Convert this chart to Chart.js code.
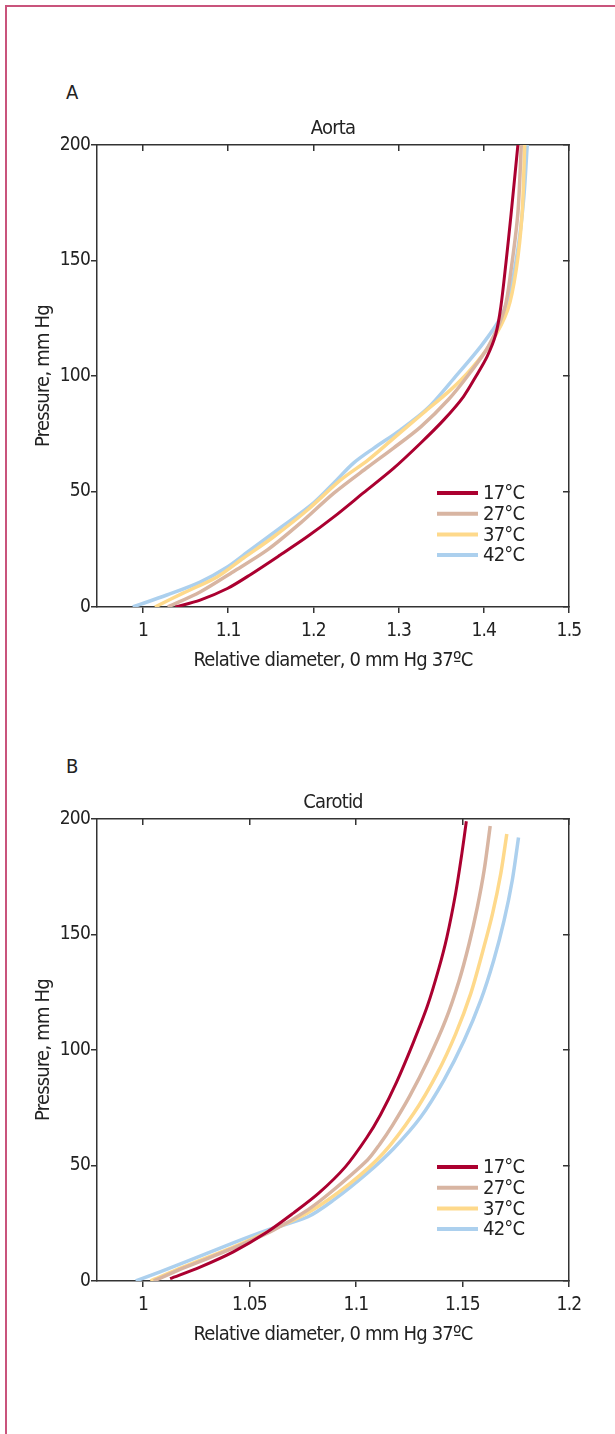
<!DOCTYPE html>
<html>
<head>
<meta charset="utf-8">
<script src="https://cdn.jsdelivr.net/npm/chart.js@4/dist/chart.umd.min.js"></script>
<style>
  html, body { margin: 0; padding: 0; background: #fff; }
  body { width: 615px; height: 1434px; position: relative; overflow: hidden;
         font-family: "DejaVu Sans Condensed", "DejaVu Sans", sans-serif; color: #222; }
  .frame { position: absolute; left: 5px; top: 5px; width: 640px; height: 1460px;
           border-left: 2px solid #c9547c; border-top: 2px solid #c9547c; }
  .panel { position: absolute; left: 66px; font-size: 20px; letter-spacing: -0.8px; }
  canvas { position: absolute; left: 0; }
</style>
</head>
<body>
<div class="frame"></div>
<div class="panel" style="top:80px">A</div>
<div class="panel" style="top:754px">B</div>
<canvas id="aorta" width="615" height="590" style="top:100px"></canvas>
<canvas id="carotid" width="615" height="590" style="top:774px"></canvas>
<script>
const labels  = ['17°C', '27°C', '37°C', '42°C'];
const colors  = ['#ab0030', '#d8b5a2', '#fed98b', '#acd0ee'];

const pressureTicks = [0, 50, 100, 150, 200];
const aortaXTicks   = [1, 1.1, 1.2, 1.3, 1.4, 1.5];
const carotidXTicks = [1, 1.05, 1.1, 1.15, 1.2];

// Aorta: relative diameter (x) vs pressure (y)
const aortaD17 = [1.038, 1.067, 1.099, 1.126, 1.161, 1.193, 1.224, 1.259, 1.294, 1.326, 1.353, 1.376, 1.391, 1.404, 1.414, 1.420, 1.426, 1.432, 1.440];
const aortaP17 = [0, 3, 8, 14, 22.5, 30.5, 39, 49.5, 60, 71, 81, 91, 100, 108.5, 118, 130, 149, 170, 200];
const aortaD27 = [1.029, 1.067, 1.106, 1.146, 1.185, 1.224, 1.264, 1.294, 1.326, 1.358, 1.383, 1.405, 1.424, 1.432, 1.440, 1.444];
const aortaP27 = [0, 6.5, 15.3, 24.7, 36.4, 49.3, 60.6, 68.8, 78, 89.6, 101, 112.6, 128.6, 146, 170.5, 200];
const aortaD37 = [1.014, 1.047, 1.087, 1.118, 1.153, 1.193, 1.232, 1.264, 1.294, 1.329, 1.361, 1.385, 1.408, 1.428, 1.438, 1.445, 1.448];
const aortaP37 = [0, 6, 13, 21.2, 30.3, 42, 55, 63.6, 73, 84, 94, 103, 114, 128.6, 146, 170.5, 200];
const aortaD42 = [0.988, 1.028, 1.067, 1.099, 1.126, 1.161, 1.200, 1.224, 1.247, 1.271, 1.302, 1.334, 1.365, 1.396, 1.420, 1.432, 1.441, 1.447, 1.451];
const aortaP42 = [0, 5.2, 10.8, 17.3, 24.7, 34.2, 45, 53.7, 62.3, 68.8, 76.6, 86, 99, 112.6, 125.5, 138.5, 157.6, 177.5, 200];

// Carotid
const carD17 = [1.0127, 1.0268, 1.0424, 1.0583, 1.0706, 1.0825, 1.0950, 1.1050, 1.1115, 1.1190, 1.1268, 1.1335, 1.1388, 1.1427, 1.1468, 1.1497, 1.1518];
const carP17 = [1, 6, 12.6, 21.2, 29.4, 38, 49.4, 62, 72, 86, 103, 119, 135, 149, 168, 185, 199];
const carD27 = [1.005, 1.020, 1.0424, 1.0612, 1.0772, 1.0894, 1.1054, 1.1110, 1.1172, 1.1252, 1.1340, 1.1421, 1.1484, 1.1531, 1.1570, 1.1602, 1.1630];
const carP27 = [0, 6, 14.2, 22, 30.7, 39.4, 52.4, 59, 67.5, 80, 96, 113, 130, 146, 162, 178, 197];
const carD37 = [1.0035, 1.0188, 1.0424, 1.0583, 1.0772, 1.0974, 1.1129, 1.1272, 1.1382, 1.1468, 1.1539, 1.1593, 1.1641, 1.1680, 1.1708];
const carP37 = [0, 6, 14.7, 21.2, 29.4, 42.4, 55.4, 72.7, 90, 107, 124.5, 142, 159, 176.5, 193.5];
const carD42 = [0.9966, 1.0188, 1.0424, 1.0583, 1.0772, 1.0894, 1.1054, 1.1178, 1.1304, 1.1413, 1.1507, 1.1586, 1.1647, 1.1695, 1.1734, 1.1763];
const carP42 = [0, 7.8, 16.5, 22, 27.7, 35, 46.8, 57.5, 71, 87, 104, 121.6, 139, 156, 173.6, 192];

const FAMILY = '"DejaVu Sans Condensed", "DejaVu Sans", sans-serif';
const INK = '#222';
const AXIS = '#333';
Chart.defaults.font.family = FAMILY;
Chart.defaults.font.size = 19;
Chart.defaults.color = INK;

const pts = (xs, ys) => xs.map((x, i) => ({ x: x, y: ys[i] }));
const fmt = v => String(+v.toFixed(2));
const fixTicks = arr => s => { s.ticks = arr.map(v => ({ value: v })); };

// narrower type, closer to the condensed face of the original
const tightText = {
    id: 'tightText',
    beforeDraw(chart) { chart.ctx.letterSpacing = '-0.8px'; }
};

// legend drawn inside the plot, bottom right
const insideLegend = {
    id: 'insideLegend',
    afterDatasetsDraw(chart) {
        const { ctx, chartArea } = chart;
        ctx.save();
        ctx.font = '20px ' + FAMILY;
        ctx.textBaseline = 'middle';
        ctx.fillStyle = INK;
        chart.data.datasets.forEach((ds, i) => {
            const y = chartArea.bottom - 114 + i * 20.7;
            ctx.strokeStyle = ds.borderColor;
            ctx.lineWidth = 4;
            ctx.beginPath();
            ctx.moveTo(chartArea.right - 132, y);
            ctx.lineTo(chartArea.right - 91, y);
            ctx.stroke();
            ctx.fillText(ds.label, chartArea.right - 86, y + 1);
        });
        ctx.restore();
    }
};

function axisGrid(len) {
    return { drawOnChartArea: false, color: AXIS, tickColor: AXIS, lineWidth: 1.5, tickLength: len };
}

function makeChart(id, title, xs, ys, xMin, xMax, xTicks) {
    return new Chart(document.getElementById(id), {
        type: 'line',
        data: {
            datasets: labels.map((l, i) => ({
                label: l,
                data: pts(xs[i], ys[i]),
                borderColor: colors[i],
                borderWidth: i === 0 ? 3 : 3.5,
                pointRadius: 0,
                tension: 0.3,
                fill: false,
            }))
        },
        plugins: [tightText, insideLegend],
        options: {
            responsive: false,
            animation: false,
            layout: { padding: 0 },
            plugins: { legend: { display: false }, title: { display: false }, tooltip: { enabled: false } },
            scales: {
                x: {
                    type: 'linear', position: 'bottom', min: xMin, max: xMax,
                    grid: axisGrid(6),
                    border: { display: true, color: AXIS, width: 1.5 },
                    ticks: { padding: 7, callback: fmt, maxRotation: 0, autoSkip: false },
                    afterBuildTicks: fixTicks(xTicks),
                    title: { display: true, text: 'Relative diameter, 0 mm Hg 37ºC', font: { size: 20 }, padding: { top: 0, bottom: 17 } },
                    afterFit: s => { s.height = 83; }
                },
                x2: {
                    type: 'linear', position: 'top', min: xMin, max: xMax,
                    grid: axisGrid(-6),
                    border: { display: true, color: AXIS, width: 1.5 },
                    ticks: { display: false },
                    afterBuildTicks: fixTicks(xTicks),
                    title: { display: true, text: title, font: { size: 20 }, padding: { top: 17, bottom: 0 } },
                    afterFit: s => { s.height = 45; }
                },
                y: {
                    type: 'linear', position: 'left', min: 0, max: 200,
                    grid: axisGrid(6),
                    border: { display: true, color: AXIS, width: 1.5 },
                    ticks: { padding: 1 },
                    afterBuildTicks: fixTicks(pressureTicks),
                    title: { display: true, text: 'Pressure, mm Hg', font: { size: 20 }, padding: { top: 32, bottom: 0 } },
                    afterFit: s => { s.width = 97; }
                },
                y2: {
                    type: 'linear', position: 'right', min: 0, max: 200,
                    grid: axisGrid(-6),
                    border: { display: true, color: AXIS, width: 1.5 },
                    ticks: { display: false },
                    afterBuildTicks: fixTicks(pressureTicks),
                    afterFit: s => { s.width = 46; }
                }
            }
        }
    });
}

makeChart('aorta', 'Aorta',
    [aortaD17, aortaD27, aortaD37, aortaD42],
    [aortaP17, aortaP27, aortaP37, aortaP42],
    0.946, 1.5, aortaXTicks);

makeChart('carotid', 'Carotid',
    [carD17, carD27, carD37, carD42],
    [carP17, carP27, carP37, carP42],
    0.9784, 1.2, carotidXTicks);
</script>
</body>
</html>
